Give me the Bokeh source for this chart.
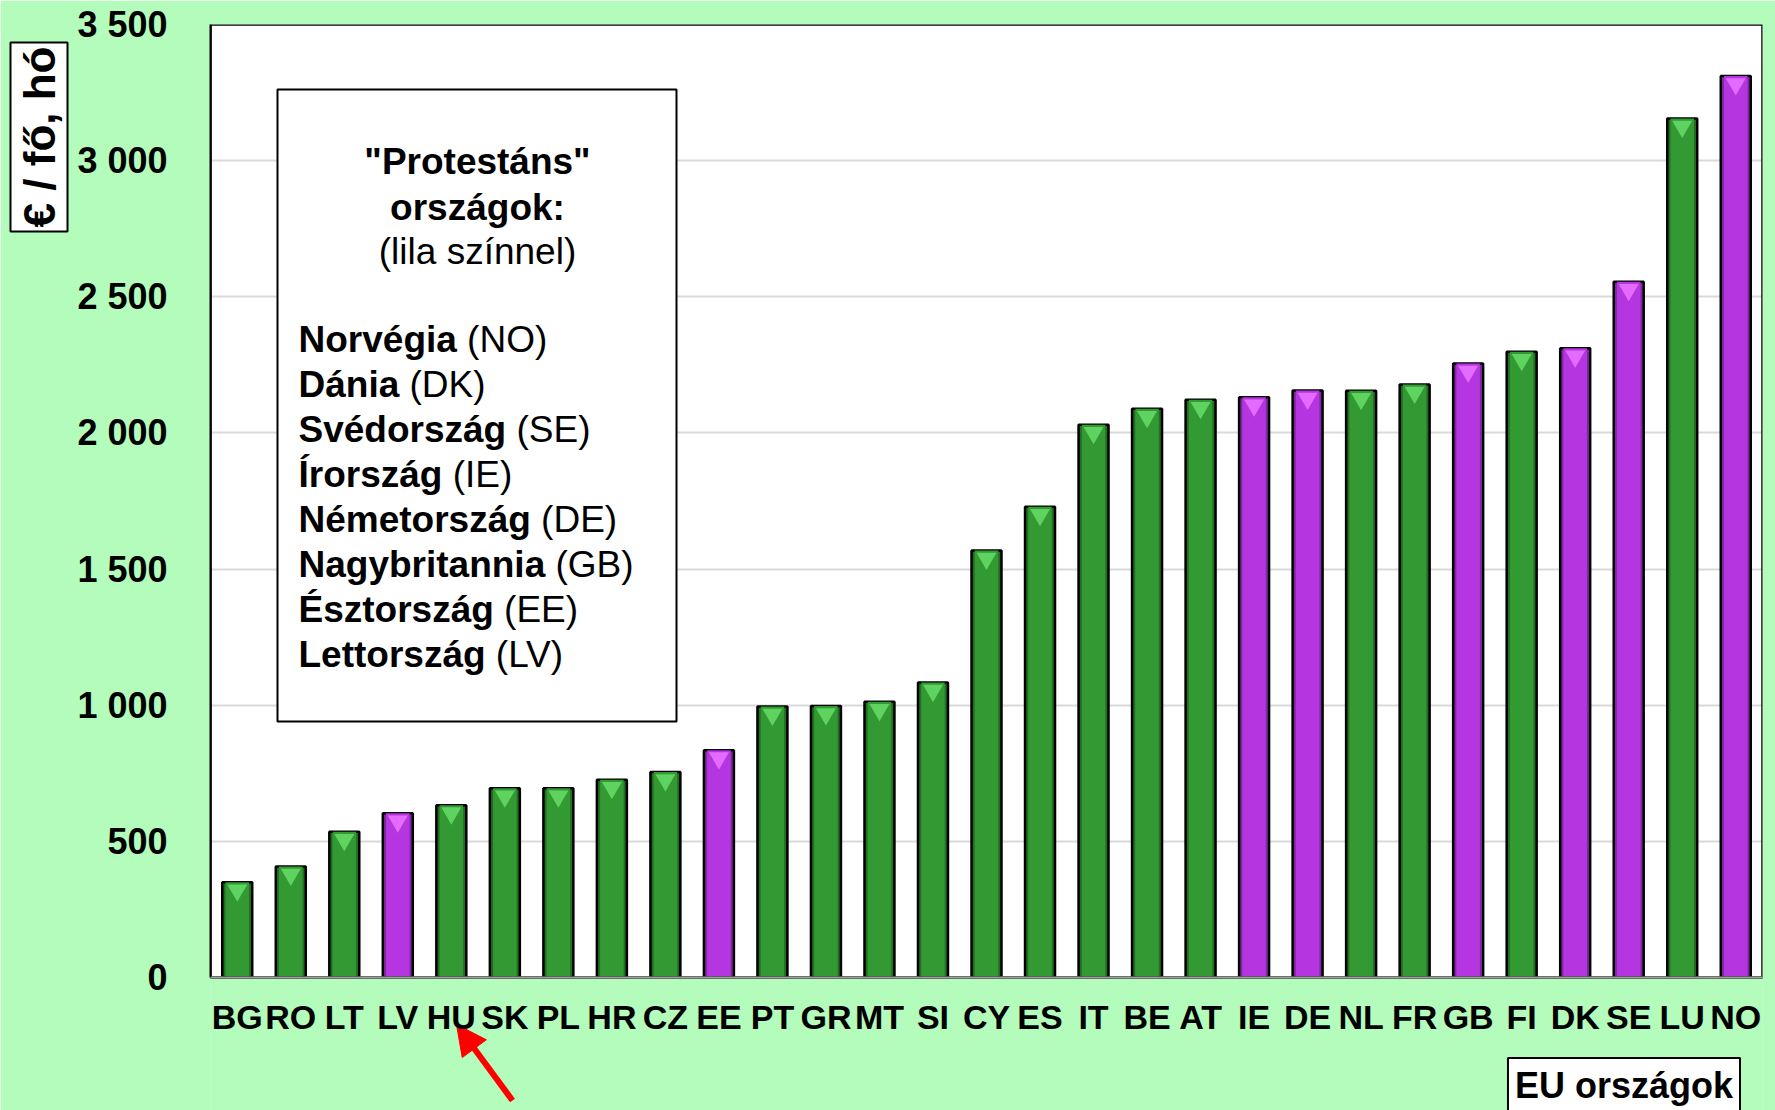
import math
from bokeh.plotting import figure
from bokeh.models import (ColumnDataSource, FactorRange, Range1d, FixedTicker,
                          Label, BoxAnnotation, Arrow, NormalHead, Title, Span)
from bokeh.core.properties import value
from bokeh.embed import file_html
from bokeh.resources import INLINE

# ---------------- data ----------------
countries = ["BG", "RO", "LT", "LV", "HU", "SK", "PL", "HR", "CZ", "EE",
             "PT", "GR", "MT", "SI", "CY", "ES", "IT", "BE", "AT", "IE",
             "DE", "NL", "FR", "GB", "FI", "DK", "SE", "LU", "NO"]
values = [350, 408, 535, 603, 633, 695, 695, 726, 755, 835,
          995, 997, 1013, 1083, 1568, 1729, 2030, 2089, 2122, 2131,
          2156, 2155, 2178, 2255, 2298, 2311, 2555, 3155, 3311]
protestant = ["NO", "DK", "SE", "IE", "DE", "GB", "EE", "LV"]

y_ticks = [0, 500, 1000, 1500, 2000, 2500, 3000, 3500]
y_tick_labels = ["0", "500", "1 000", "1 500", "2 000", "2 500", "3 000", "3 500"]

legend_title = ['"Protestáns"', "országok:", "(lila színnel)"]
legend_names = ["Norvégia", "Dánia", "Svédország", "Írország",
                "Németország", "Nagybritannia", "Észtország", "Lettország"]
legend_codes = ["NO", "DK", "SE", "IE", "DE", "GB", "EE", "LV"]

y_title = "€ / fő, hó"
x_title = "EU országok"

# ---------------- styling / layout ----------------
BG = "#b3fcbb"
FONT = "Liberation Sans"
GREEN, GREEN_D, GREEN_L = "#339933", "#226f22", "#5fd35f"
PURP, PURP_D, PURP_L = "#b535e0", "#80299f", "#e46bff"

W, H = 1775, 1110
ML, MR, MT = 210, 13, 24
FW = W - ML - MR
PLOT_H = 953                 # height of the value area (0 .. 3500)
BELOW = H - MT - PLOT_H      # strip under the value area, kept inside the frame
YMAX = 3500
px_per_unit = PLOT_H / YMAX
y_start = -BELOW / px_per_unit

is_p = [c in protestant for c in countries]
src = ColumnDataSource(dict(
    x=countries,
    top=values,
    fill=[PURP if p else GREEN for p in is_p],
    edge=[PURP_D if p else GREEN_D for p in is_p],
    light=[PURP_L if p else GREEN_L for p in is_p],
    tri=[v - 8 / px_per_unit for v in values],
))

p = figure(width=W, height=H, x_range=FactorRange(*countries),
           y_range=Range1d(y_start, YMAX), output_backend="svg",
           toolbar_location=None, x_axis_location=None,
           min_border_left=ML, min_border_right=MR,
           min_border_top=MT, min_border_bottom=0)
p.border_fill_color = BG
p.background_fill_color = BG
p.outline_line_color = None

# white value area (drawn beneath the grid)
p.add_layout(BoxAnnotation(bottom=0, fill_color="white", fill_alpha=1.0,
                           line_color=None, level="image"))

# grid
p.xgrid.grid_line_color = None
p.ygrid.ticker = FixedTicker(ticks=y_ticks)
p.ygrid.grid_line_color = "#d9d9d9"
p.ygrid.grid_line_width = 2

# bars with a simple bevel look
p.vbar(x="x", top="top", width=0.56, source=src, fill_color="edge",
       line_color="black", line_width=2.5)
p.vbar(x="x", top="top", width=0.44, source=src, fill_color="fill",
       line_color=None)
p.scatter(x="x", y="tri", source=src, marker="inverted_triangle", size=20,
          fill_color="light", line_color=None)

# green cover for the strip under the value area (hides frame-edge seams)
p.add_layout(BoxAnnotation(top=0, left=-4, right=FW + 4,
                           left_units="screen", right_units="screen",
                           fill_color=BG, fill_alpha=1.0, line_color=None,
                           level="guide"))

# plot-area border and category axis line
p.add_layout(BoxAnnotation(bottom=0, fill_alpha=0.0, line_color="black",
                           line_width=2.5, line_alpha=1.0))
p.add_layout(Span(location=0, dimension="width", line_color="#a0a0a0",
                  line_width=2))

# category labels under the bars
label_y = -(39.5 / px_per_unit)
p.text(x=countries, y=[label_y] * len(countries), text=countries,
       text_font=value(FONT), text_font_style="bold", text_font_size="34px",
       text_color="black", text_align="center", text_baseline="middle",
       level="overlay")

# y axis
p.yaxis.ticker = FixedTicker(ticks=y_ticks)
p.yaxis.bounds = (0, YMAX)
p.yaxis.major_label_overrides = {t: l for t, l in zip(y_ticks, y_tick_labels)}
p.yaxis.major_label_text_font = FONT
p.yaxis.major_label_text_font_style = "bold"
p.yaxis.major_label_text_font_size = "36px"
p.yaxis.major_label_text_color = "black"
p.yaxis.major_label_standoff = 43
p.yaxis.major_tick_line_color = None
p.yaxis.minor_tick_line_color = None
p.yaxis.major_tick_out = 0
p.yaxis.major_tick_in = 0
p.yaxis.axis_line_color = "black"
p.yaxis.axis_line_width = 2

# y axis title in a white box (side-panel title)
p.add_layout(Title(text=y_title, align="right", offset=18, standoff=14,
                   text_font=FONT, text_font_size="44px",
                   text_font_style="bold", text_color="black",
                   background_fill_color="white", border_line_color="black",
                   border_line_width=2, padding=4), "left")

# frame-relative screen coordinates (x from frame left, y from frame bottom)
FB = H  # frame bottom in page pixels


def sy(page_y):
    return FB - page_y


# x axis title in a white box
p.add_layout(Label(x=1623.5 - ML, y=sy(1085), x_units="screen", y_units="screen",
                   text=x_title, text_align="center", text_baseline="middle",
                   text_font=FONT, text_font_size="36px",
                   text_font_style="bold", text_color="black",
                   background_fill_color="white", border_line_color="black",
                   border_line_width=2, padding=7))

# legend-like text box
p.add_layout(BoxAnnotation(left=277 - ML, right=676 - ML, top=sy(89), bottom=sy(721),
                           left_units="screen", right_units="screen",
                           top_units="screen", bottom_units="screen",
                           fill_color="white", fill_alpha=1.0,
                           line_color="black", line_width=2, line_alpha=1.0))

SHIFT = 12
title_base = [172.5, 218.5, 262.5]
for i, t in enumerate(legend_title):
    p.add_layout(Label(x=477 - ML, y=sy(title_base[i]) + SHIFT, x_units="screen",
                       y_units="screen", text=t, text_align="center",
                       text_baseline="alphabetic", text_font=FONT,
                       text_font_size="37px",
                       text_font_style="bold" if i < 2 else "normal",
                       text_color="black"))

# Arial-bold advance widths (per 1000 em) for measuring the bold names
bold_w = {"N": 722, "o": 611, "r": 389, "v": 556, "é": 556, "g": 611, "i": 278,
          "a": 556, "D": 722, "á": 556, "n": 611, "S": 667, "d": 611, "s": 556,
          "z": 500, "Í": 278, "m": 889, "e": 556, "t": 333, "y": 556, "b": 611,
          "É": 667, "L": 611}
FS = 37
for i, (nm, cd) in enumerate(zip(legend_names, legend_codes)):
    yb = sy(350.5 + i * 45.1) + SHIFT
    p.add_layout(Label(x=298 - ML, y=yb, x_units="screen", y_units="screen",
                       text=nm, text_align="left", text_baseline="alphabetic",
                       text_font=FONT, text_font_size=f"{FS}px",
                       text_font_style="bold", text_color="black"))
    wpx = (sum(bold_w.get(ch, 556) for ch in nm) + 278) * FS / 1000.0
    p.add_layout(Label(x=298 - ML + wpx, y=yb, x_units="screen", y_units="screen",
                       text=f"({cd})", text_align="left",
                       text_baseline="alphabetic", text_font=FONT,
                       text_font_size=f"{FS}px", text_font_style="normal",
                       text_color="black"))

# red arrow pointing at HU: body and head drawn separately
tip = (456 - ML, sy(1024))
tail = (512 - ML, sy(1100))
dx, dy = tip[0] - tail[0], tip[1] - tail[1]
ln = math.hypot(dx, dy)
ux, uy = dx / ln, dy / ln
p.add_layout(Arrow(end=None, x_start=tail[0], y_start=tail[1],
                   x_end=tip[0] - 14 * ux, y_end=tip[1] - 14 * uy,
                   start_units="screen", end_units="screen",
                   line_color="red", line_width=6))
p.add_layout(Arrow(end=NormalHead(size=30, fill_color="red", line_color="red"),
                   x_start=tip[0] - 3 * ux, y_start=tip[1] - 3 * uy,
                   x_end=tip[0], y_end=tip[1],
                   start_units="screen", end_units="screen",
                   line_color="red", line_width=1))

open("out.html", "w").write(file_html(p, INLINE))
